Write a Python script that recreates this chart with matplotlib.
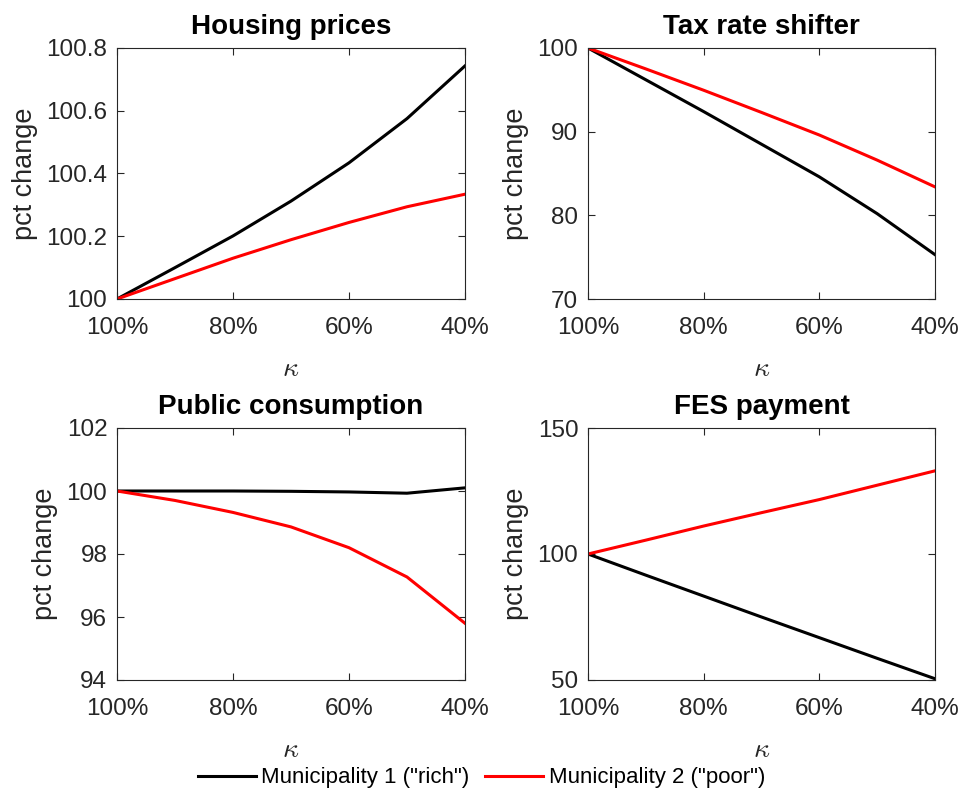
import numpy as np
import matplotlib.pyplot as plt

plt.rcParams['font.family'] = ['Liberation Sans', 'DejaVu Sans']
plt.rcParams['mathtext.fontset'] = 'cm'

# kappa grid (share), plotted on a reversed axis
kappa = [1.0, 0.9, 0.8, 0.7, 0.6, 0.5, 0.4]

housing_rich = [100.0, 100.10, 100.201, 100.312, 100.434, 100.575, 100.743]
housing_poor = [100.0, 100.065, 100.130, 100.189, 100.244, 100.294, 100.334]

tax_rich = [100.0, 96.2, 92.4, 88.5, 84.6, 80.2, 75.3]
tax_poor = [100.0, 97.5, 94.95, 92.3, 89.6, 86.6, 83.4]

pub_rich = [100.0, 100.0, 100.0, 99.99, 99.97, 99.93, 100.1]
pub_poor = [100.0, 99.70, 99.32, 98.86, 98.20, 97.27, 95.80]

fes_rich = [100.0, 91.6, 83.3, 75.0, 66.8, 58.6, 50.5]
fes_poor = [100.0, 105.5, 111.1, 116.4, 121.6, 127.3, 133.0]

titles = ['Housing prices', 'Tax rate shifter', 'Public consumption', 'FES payment']
rich = [housing_rich, tax_rich, pub_rich, fes_rich]
poor = [housing_poor, tax_poor, pub_poor, fes_poor]
ylims = [(100, 100.8), (70, 100), (94, 102), (50, 150)]
yticks = [[100, 100.2, 100.4, 100.6, 100.8], [70, 80, 90, 100],
          [94, 96, 98, 100, 102], [50, 100, 150]]
ytick_labels = [['100', '100.2', '100.4', '100.6', '100.8'], None, None, None]
xticks = [1.0, 0.8, 0.6, 0.4]
xtick_labels = ['100%', '80%', '60%', '40%']

W, H = 963, 796
fig = plt.figure(figsize=(W / 100, H / 100), dpi=100)

# axes boxes in pixels: left, right, top, bottom
boxes = [(117, 465, 48, 299), (588, 935, 48, 299),
         (117, 465, 428, 680), (588, 935, 428, 680)]

dark = '#262626'
handles = []
for i in range(4):
    l, r, t, b = boxes[i]
    ax = fig.add_axes([l / W, 1 - b / H, (r - l) / W, (b - t) / H])
    h1, = ax.plot(kappa, rich[i], color='black', lw=2.2, label='Municipality 1 ("rich")')
    h2, = ax.plot(kappa, poor[i], color='red', lw=2.2, label='Municipality 2 ("poor")')
    if i == 0:
        handles = [h1, h2]
    ax.set_xlim(1.0, 0.4)
    ax.set_ylim(*ylims[i])
    ax.set_xticks(xticks)
    ax.set_xticklabels(xtick_labels)
    ax.set_yticks(yticks[i])
    if ytick_labels[i] is not None:
        ax.set_yticklabels(ytick_labels[i])
    ax.tick_params(direction='in', top=True, right=True, length=5, width=0.8,
                   colors=dark, labelsize=17.5)
    ax.tick_params(axis='x', pad=13)
    ax.tick_params(axis='y', pad=7)
    for s in ax.spines.values():
        s.set_color(dark)
        s.set_linewidth(0.8)
    ax.set_title(titles[i], fontsize=20, fontweight='bold', pad=10)
    ax.set_ylabel('pct change', fontsize=19.5, color=dark, labelpad=6)
    ax.set_xlabel(r'$\kappa$', fontsize=20, color=dark, labelpad=12)

fig.legend(handles=handles, loc='center', bbox_to_anchor=(0.5, 1 - 778 / H),
           ncol=2, frameon=False, fontsize=16, handlelength=2.6,
           handletextpad=0.25, columnspacing=0.7)

fig.savefig('out.png', dpi=100)
